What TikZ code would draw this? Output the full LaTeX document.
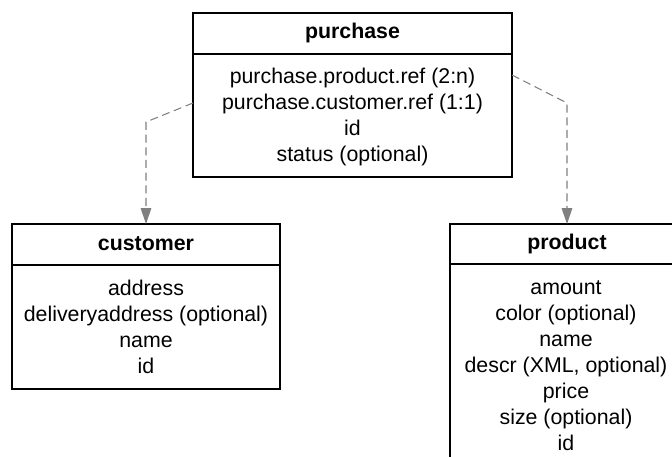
\documentclass[tikz,border=0pt]{standalone}
\usepackage{fontspec}
\setmainfont{Liberation Sans}
\usetikzlibrary{arrows.meta}
\begin{document}
\begin{tikzpicture}[x=0.75pt,y=-0.75pt,
  tbl/.style={draw=black,line width=1pt,fill=white,inner sep=0pt,outer sep=0pt},
  title/.style={font=\fontsize{16}{19.5}\selectfont\bfseries,inner sep=0pt},
  attrs/.style={font=\fontsize{16}{19.5}\selectfont,align=center,inner sep=0pt},
  divider/.style={draw=black,line width=1pt},
  link/.style={draw=gray,line width=0.8pt,dash pattern=on 6pt off 3.5pt,
    -{Triangle[length=12pt,width=8pt]}}]
\useasboundingbox (0,0) rectangle (672,457);
\clip (0,0) rectangle (672,457);

% purchase table
\node[tbl,minimum width=239.25pt,minimum height=123pt] (purchase) at (352.5,95) {};
\draw[divider] (purchase.west |- 0,54) -- (purchase.east |- 0,54);
\node[title] (purchaseT) at (352.5,33) {purchase};
\node[attrs] (purchaseA) at (352.5,117) {purchase.product.ref (2:n)\\purchase.customer.ref (1:1)\\id\\status (optional)};

% customer table
\node[tbl,minimum width=201pt,minimum height=123.75pt] (customer) at (146,306.5) {};
\draw[divider] (customer.west |- 0,265) -- (customer.east |- 0,265);
\node[title] (customerT) at (146,244) {customer};
\node[attrs] (customerA) at (146,327) {address\\deliveryaddress (optional)\\name\\id};

% product table
\node[tbl,minimum width=175.5pt,minimum height=184.5pt] (product) at (567,347) {};
\draw[divider] (product.west |- 0,264) -- (product.east |- 0,264);
\node[title] (productT) at (567,244) {product};
\node[attrs] (productA) at (566,366) {amount\\color (optional)\\name\\descr (XML, optional)\\price\\size (optional)\\id};

% references
\coordinate (bendL) at (146,122);
\coordinate (bendR) at (567,103);
\draw[link] ([yshift=-6pt]purchase.west) -- (bendL) -- (customer.north);
\draw[link] ([yshift=15pt]purchase.east) -- (bendR) -- (product.north);
\end{tikzpicture}
\end{document}
